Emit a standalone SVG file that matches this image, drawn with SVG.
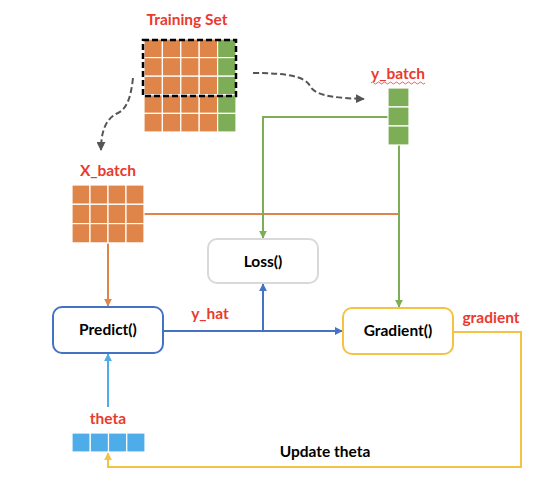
<svg xmlns="http://www.w3.org/2000/svg" width="556" height="491" viewBox="0 0 556 491">
<style>
.lbl{font-family:"Lato","Liberation Sans",sans-serif;font-weight:bold;font-size:15.5px;fill:#EA3A2E;text-anchor:middle}
.node{font-family:"Lato","Liberation Sans",sans-serif;font-weight:bold;font-size:15.5px;fill:#000;text-anchor:middle}
.or{fill:#E0854A;stroke:#fff;stroke-width:1.2}
.gr{fill:#7EAD57;stroke:#fff;stroke-width:1.2}
.bl{fill:#4EADE8;stroke:#fff;stroke-width:1.2}
.ln{fill:none;stroke-width:2}
</style>
<defs>
<marker id="aO" viewBox="0 0 10 10" refX="9" refY="5" markerWidth="8" markerHeight="8" markerUnits="userSpaceOnUse" orient="auto"><path d="M0,0 L10,5 L0,10 z" fill="#E0854A"/></marker>
<marker id="aG" viewBox="0 0 10 10" refX="9" refY="5" markerWidth="8" markerHeight="8" markerUnits="userSpaceOnUse" orient="auto"><path d="M0,0 L10,5 L0,10 z" fill="#7EAD57"/></marker>
<marker id="aB" viewBox="0 0 10 10" refX="9" refY="5" markerWidth="8" markerHeight="8" markerUnits="userSpaceOnUse" orient="auto"><path d="M0,0 L10,5 L0,10 z" fill="#4472C4"/></marker>
<marker id="aL" viewBox="0 0 10 10" refX="9" refY="5" markerWidth="8" markerHeight="8" markerUnits="userSpaceOnUse" orient="auto"><path d="M0,0 L10,5 L0,10 z" fill="#4EADE8"/></marker>
<marker id="aY" viewBox="0 0 10 10" refX="9" refY="5" markerWidth="8" markerHeight="8" markerUnits="userSpaceOnUse" orient="auto"><path d="M0,0 L10,5 L0,10 z" fill="#F5C242"/></marker>
<marker id="aD" viewBox="0 0 10 10" refX="9" refY="5" markerWidth="9" markerHeight="9" markerUnits="userSpaceOnUse" orient="auto"><path d="M0,0 L10,5 L0,10 z" fill="#555"/></marker>
</defs>

<g id="connectors">
<path class="ln" stroke="#E0854A" d="M144,214 H399"/>
<path class="ln" stroke="#E0854A" d="M108,243 V306" marker-end="url(#aO)"/>
<path class="ln" stroke="#7EAD57" d="M388,117 H263 V238" marker-end="url(#aG)"/>
<path class="ln" stroke="#7EAD57" d="M399,145 V307" marker-end="url(#aG)"/>
<path class="ln" stroke="#4472C4" d="M163,331 H342" marker-end="url(#aB)"/>
<path class="ln" stroke="#4472C4" d="M263,331 V284" marker-end="url(#aB)"/>
<path class="ln" stroke="#4EADE8" d="M108,407 V354" marker-end="url(#aL)"/>
<path class="ln" stroke="#F5C242" d="M453,332 H521 V467 H108 V453" marker-end="url(#aY)"/>
<path class="ln" stroke="#555" stroke-width="2.5" stroke-dasharray="6,3" d="M253,73 C285,73 305,76 310,86 C316,97 340,98 364,99" marker-end="url(#aD)"/>
<path class="ln" stroke="#555" stroke-width="2.5" stroke-dasharray="6,3" d="M133,78 C131,95 128,108 118,113 C104,119 101,135 101,150" marker-end="url(#aD)"/>
</g>

<g id="training-set">
<text class="lbl" x="187" y="25">Training Set</text>
<g>
<rect class="or" x="144" y="39" width="18.4" height="18.6"/><rect class="or" x="162.4" y="39" width="18.4" height="18.6"/><rect class="or" x="180.8" y="39" width="18.4" height="18.6"/><rect class="or" x="199.2" y="39" width="18.4" height="18.6"/><rect class="gr" x="217.6" y="39" width="18.4" height="18.6"/>
<rect class="or" x="144" y="57.6" width="18.4" height="18.6"/><rect class="or" x="162.4" y="57.6" width="18.4" height="18.6"/><rect class="or" x="180.8" y="57.6" width="18.4" height="18.6"/><rect class="or" x="199.2" y="57.6" width="18.4" height="18.6"/><rect class="gr" x="217.6" y="57.6" width="18.4" height="18.6"/>
<rect class="or" x="144" y="76.2" width="18.4" height="18.6"/><rect class="or" x="162.4" y="76.2" width="18.4" height="18.6"/><rect class="or" x="180.8" y="76.2" width="18.4" height="18.6"/><rect class="or" x="199.2" y="76.2" width="18.4" height="18.6"/><rect class="gr" x="217.6" y="76.2" width="18.4" height="18.6"/>
<rect class="or" x="144" y="94.8" width="18.4" height="18.6"/><rect class="or" x="162.4" y="94.8" width="18.4" height="18.6"/><rect class="or" x="180.8" y="94.8" width="18.4" height="18.6"/><rect class="or" x="199.2" y="94.8" width="18.4" height="18.6"/><rect class="gr" x="217.6" y="94.8" width="18.4" height="18.6"/>
<rect class="or" x="144" y="113.4" width="18.4" height="18.6"/><rect class="or" x="162.4" y="113.4" width="18.4" height="18.6"/><rect class="or" x="180.8" y="113.4" width="18.4" height="18.6"/><rect class="or" x="199.2" y="113.4" width="18.4" height="18.6"/><rect class="gr" x="217.6" y="113.4" width="18.4" height="18.6"/>
</g>
<rect x="143" y="40" width="93" height="56" fill="none" stroke="#000" stroke-width="2.5" stroke-dasharray="6,3"/>
</g>

<g id="y-batch">
<text class="lbl" x="398" y="79">y_batch</text>
<path d="M371,83 q1.5,-2 3,0 t3,0 t3,0 t3,0 t3,0 t3,0 t3,0 t3,0 t3,0 t3,0 t3,0 t3,0 t3,0 t3,0 t3,0 t3,0 t3,0 t3,0" fill="none" stroke="#EA3A2E" stroke-width="0.8"/>
<rect class="gr" x="388" y="88" width="21" height="19"/>
<rect class="gr" x="388" y="107" width="21" height="19"/>
<rect class="gr" x="388" y="126" width="21" height="19"/>
</g>

<g id="x-batch">
<text class="lbl" x="108" y="176">X_batch</text>
<rect class="or" x="72" y="185" width="18" height="19.3"/><rect class="or" x="90" y="185" width="18" height="19.3"/><rect class="or" x="108" y="185" width="18" height="19.3"/><rect class="or" x="126" y="185" width="18" height="19.3"/>
<rect class="or" x="72" y="204.3" width="18" height="19.3"/><rect class="or" x="90" y="204.3" width="18" height="19.3"/><rect class="or" x="108" y="204.3" width="18" height="19.3"/><rect class="or" x="126" y="204.3" width="18" height="19.3"/>
<rect class="or" x="72" y="223.6" width="18" height="19.3"/><rect class="or" x="90" y="223.6" width="18" height="19.3"/><rect class="or" x="108" y="223.6" width="18" height="19.3"/><rect class="or" x="126" y="223.6" width="18" height="19.3"/>
</g>

<g id="loss">
<rect x="208" y="239" width="110" height="44" rx="9" fill="#fff" stroke="#D9D9D9" stroke-width="2"/>
<text class="node" x="263" y="267">Loss()</text>
</g>

<g id="predict">
<rect x="53" y="307" width="110" height="46" rx="9" fill="#fff" stroke="#4472C4" stroke-width="2"/>
<text class="node" x="108" y="335">Predict()</text>
</g>

<g id="gradient">
<rect x="343" y="308" width="110" height="46" rx="9" fill="#fff" stroke="#F5C242" stroke-width="2"/>
<text class="node" x="398" y="336">Gradient()</text>
</g>

<g id="labels">
<text class="lbl" x="210" y="319">y_hat</text>
<text class="lbl" x="491" y="323">gradient</text>
<text class="node" x="325" y="457">Update theta</text>
</g>

<g id="theta">
<text class="lbl" x="108" y="424">theta</text>
<rect class="bl" x="72" y="433" width="18.25" height="19"/><rect class="bl" x="90.25" y="433" width="18.25" height="19"/><rect class="bl" x="108.5" y="433" width="18.25" height="19"/><rect class="bl" x="126.75" y="433" width="18.25" height="19"/>
</g>
</svg>
